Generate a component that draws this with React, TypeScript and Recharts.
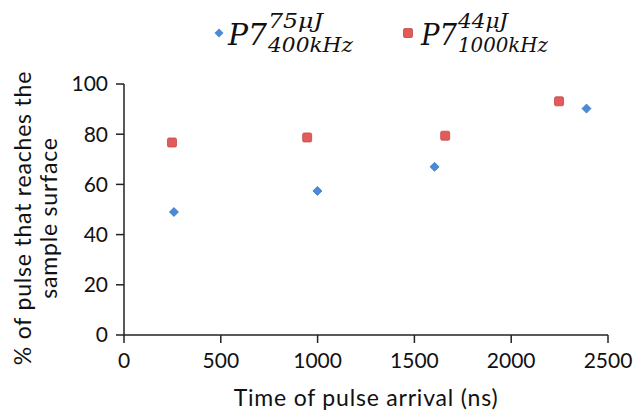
import { Legend, Scatter, ScatterChart, XAxis, YAxis } from "recharts";

const blueTimes = [258, 999, 1604, 2389];
const bluePct = [49.0, 57.4, 67.0, 90.2];
const redTimes = [248, 946, 1659, 2247];
const redPct = [76.7, 78.7, 79.4, 93.1];
const xTicks = [0, 500, 1000, 1500, 2000, 2500];
const yTicks = [0, 20, 40, 60, 80, 100];

const BLUE = "#4a8ad6";
const RED = "#e25b5b";
const RED_EDGE = "#c04848";
const FONT = "Lato, 'Noto Sans', sans-serif";
const MATH = "'DejaVu Serif', 'Liberation Serif', serif";

const blue = blueTimes.map((t, i) => ({ t, pct: bluePct[i] }));
const red = redTimes.map((t, i) => ({ t, pct: redPct[i] }));

function Diamond({ cx, cy }: { cx?: number; cy?: number }) {
  if (cx == null || cy == null) return null;
  const r = 4.5;
  return (
    <path
      d={`M${cx},${cy - r} L${cx + r},${cy} L${cx},${cy + r} L${cx - r},${cy} Z`}
      fill={BLUE}
      stroke="#3c78c2"
      strokeWidth={0.8}
    />
  );
}

function Square({ cx, cy }: { cx?: number; cy?: number }) {
  if (cx == null || cy == null) return null;
  const s = 9;
  return (
    <rect x={cx - s / 2} y={cy - s / 2} width={s} height={s} rx={1.5} fill={RED} stroke={RED_EDGE} strokeWidth={0.8} />
  );
}

// P7 with stacked super/subscript, drawn like the LaTeX legend entries
function MathLabel({ x, sup, sub, supW, subW, p7W }: any) {
  const sx = x + p7W + 1;
  return (
    <g fontFamily={MATH} fontStyle="italic" fill="#111">
      <text x={x} y={45} fontSize={30} textLength={p7W} lengthAdjust="spacingAndGlyphs">P7</text>
      <text x={sx} y={28} fontSize={20} textLength={supW} lengthAdjust="spacingAndGlyphs">{sup}</text>
      <text x={sx} y={52} fontSize={20} textLength={subW} lengthAdjust="spacingAndGlyphs">{sub}</text>
    </g>
  );
}

function LegendBox() {
  return (
    <svg width={634} height={60} style={{ display: "block" }}>
      <path d="M219,28.5 L223.5,33 L219,37.5 L214.5,33 Z" fill={BLUE} />
      <MathLabel x={228} p7W={39} sup="75μJ" supW={55} sub="400kHz" subW={85} />
      <rect x={403.5} y={28.5} width={9} height={9} rx={1.5} fill={RED} stroke={RED_EDGE} strokeWidth={0.8} />
      <MathLabel x={421} p7W={36} sup="44μJ" supW={50} sub="1000kHz" subW={90} />
    </svg>
  );
}

function YTitle() {
  const cy = 218;
  return (
    <g fontFamily={FONT} fontSize={23} fill="#111" textAnchor="middle" letterSpacing={0.8}>
      <text x={31} y={cy} transform={`rotate(-90, 31, ${cy})`}>
        % of pulse that reaches the
      </text>
      <text x={57} y={cy} transform={`rotate(-90, 57, ${cy})`}>
        sample surface
      </text>
    </g>
  );
}

function XTitle({ viewBox }: any) {
  const cx = viewBox.x + viewBox.width / 2;
  return (
    <text x={cx} y={406} fontFamily={FONT} fontSize={23} letterSpacing={0.8} fill="#111" textAnchor="middle">
      Time of pulse arrival (ns)
    </text>
  );
}

export default function App() {
  return (
    <div style={{ position: "absolute", left: 0, top: 0, background: "#fff" }}>
      <ScatterChart width={634} height={415} margin={{ top: 24, right: 26, bottom: 0, left: 0 }}>
        <Legend verticalAlign="top" content={() => <LegendBox />} wrapperStyle={{ top: 0, left: 0, width: 634, height: 60 }} />
        <XAxis
          type="number"
          dataKey="t"
          domain={[0, 2500]}
          ticks={xTicks}
          height={80}
          tickSize={8}
          tickMargin={10}
          stroke="#222"
          strokeWidth={1.5}
          tick={{ fill: "#111", fontSize: 21, fontFamily: FONT }}
          label={<XTitle />}
        />
        <YAxis
          type="number"
          dataKey="pct"
          domain={[0, 100]}
          ticks={yTicks}
          width={124}
          tickSize={8}
          tickMargin={8}
          stroke="#222"
          strokeWidth={1.5}
          tick={{ fill: "#111", fontSize: 21, fontFamily: FONT }}
          label={<YTitle />}
        />
        <Scatter data={blue} shape={<Diamond />} isAnimationActive={false} />
        <Scatter data={red} shape={<Square />} isAnimationActive={false} />
      </ScatterChart>
    </div>
  );
}
